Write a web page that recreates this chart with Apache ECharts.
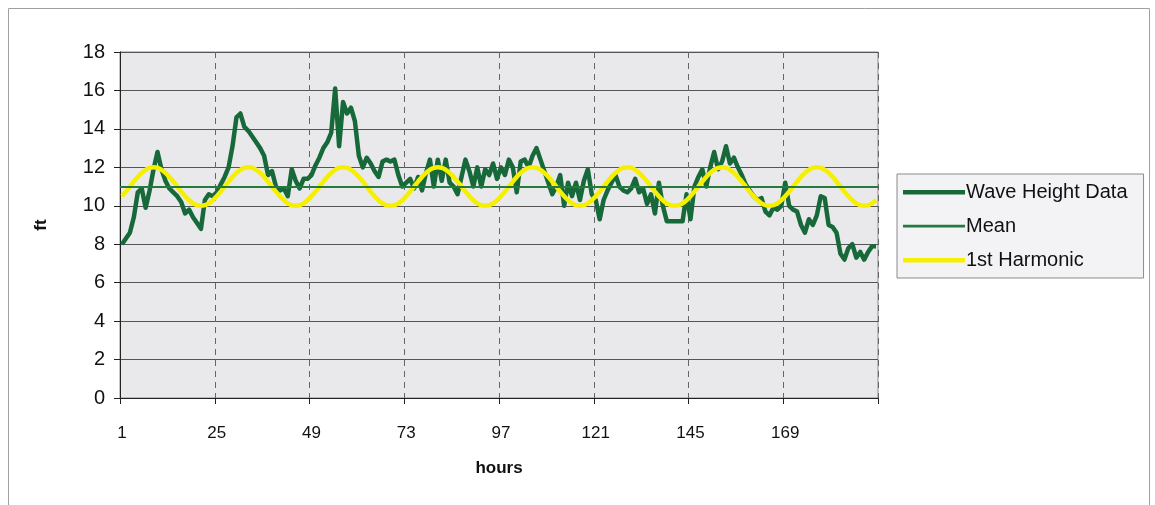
<!DOCTYPE html>
<html>
<head>
<meta charset="utf-8">
<style>
html,body{margin:0;padding:0;background:#fff;}
#chart{width:1155px;height:505px;}
</style>
<script src="https://cdn.jsdelivr.net/npm/echarts@6/dist/echarts.min.js"></script>
</head>
<body>
<div id="chart"></div>
<script>
// hours 1..192
var hours = [];
for (var i = 1; i <= 192; i++) hours.push(String(i));

var waveHeight = [
  8.0, 8.3, 8.6, 9.4, 10.7, 10.9, 9.9, 10.8,
  11.9, 12.8, 11.9, 11.3, 10.9, 10.7, 10.5, 10.2,
  9.6, 9.8, 9.4, 9.1, 8.8, 10.3, 10.6, 10.5,
  10.7, 11.1, 11.5, 12.0, 13.1, 14.6, 14.8, 14.1,
  13.9, 13.6, 13.3, 13.0, 12.6, 11.6, 11.8, 11.0,
  10.8, 10.9, 10.5, 11.9, 11.3, 10.9, 11.4, 11.4,
  11.6, 12.1, 12.5, 13.0, 13.3, 13.8, 16.1, 13.1,
  15.4, 14.8, 15.1, 14.4, 12.6, 12.0, 12.5, 12.2,
  11.8, 11.5, 12.3, 12.4, 12.3, 12.4, 11.6, 11.0,
  11.2, 11.4, 10.9, 11.5, 10.8, 11.7, 12.4, 11.0,
  12.4, 11.3, 12.4, 11.2, 11.0, 10.6, 11.5, 12.4,
  11.8, 11.0, 12.0, 11.0, 11.9, 11.6, 12.2, 11.4,
  12.0, 11.6, 12.4, 12.0, 10.7, 12.3, 12.4, 12.0,
  12.6, 13.0, 12.4, 11.8, 11.2, 10.6, 11.0, 11.6,
  10.0, 11.2, 10.5, 11.2, 10.3, 11.3, 11.9, 10.6,
  10.3, 9.3, 10.3, 10.8, 11.2, 11.6, 11.0, 10.8,
  10.7, 10.9, 11.4, 10.7, 10.9, 10.1, 10.6, 9.6,
  11.2, 10.0, 9.2, 9.2, 9.2, 9.2, 9.2, 10.6,
  9.3, 11.0, 11.5, 11.9, 11.0, 12.0, 12.8, 11.9,
  12.3, 13.1, 12.2, 12.5, 12.0, 11.6, 11.1, 10.8,
  10.5, 10.3, 10.4, 9.7, 9.5, 9.9, 9.8, 10.0,
  11.2, 10.0, 9.8, 9.7, 9.0, 8.6, 9.3, 9.0,
  9.5, 10.5, 10.4, 9.0, 8.9, 8.6, 7.5, 7.2,
  7.8, 8.0, 7.3, 7.6, 7.2, 7.6, 7.9, 7.9
];

var meanValue = 11.0;

var firstHarmonic = [
  10.50,10.74,11.00,11.26,11.50,11.71,11.87,11.97,12.00,11.97,11.87,11.71,11.50,11.26,11.00,10.74,10.50,10.29,10.13,10.03,10.00,10.03,10.13,10.29,
  10.50,10.74,11.00,11.26,11.50,11.71,11.87,11.97,12.00,11.97,11.87,11.71,11.50,11.26,11.00,10.74,10.50,10.29,10.13,10.03,10.00,10.03,10.13,10.29,
  10.50,10.74,11.00,11.26,11.50,11.71,11.87,11.97,12.00,11.97,11.87,11.71,11.50,11.26,11.00,10.74,10.50,10.29,10.13,10.03,10.00,10.03,10.13,10.29,
  10.50,10.74,11.00,11.26,11.50,11.71,11.87,11.97,12.00,11.97,11.87,11.71,11.50,11.26,11.00,10.74,10.50,10.29,10.13,10.03,10.00,10.03,10.13,10.29,
  10.50,10.74,11.00,11.26,11.50,11.71,11.87,11.97,12.00,11.97,11.87,11.71,11.50,11.26,11.00,10.74,10.50,10.29,10.13,10.03,10.00,10.03,10.13,10.29,
  10.50,10.74,11.00,11.26,11.50,11.71,11.87,11.97,12.00,11.97,11.87,11.71,11.50,11.26,11.00,10.74,10.50,10.29,10.13,10.03,10.00,10.03,10.13,10.29,
  10.50,10.74,11.00,11.26,11.50,11.71,11.87,11.97,12.00,11.97,11.87,11.71,11.50,11.26,11.00,10.74,10.50,10.29,10.13,10.03,10.00,10.03,10.13,10.29,
  10.50,10.74,11.00,11.26,11.50,11.71,11.87,11.97,12.00,11.97,11.87,11.71,11.50,11.26,11.00,10.74,10.50,10.29,10.13,10.03,10.00,10.03,10.13,10.29
];

var seriesNames = ['Wave Height Data', 'Mean', '1st Harmonic'];

var WAVE_COLOR = '#17693a', MEAN_COLOR = '#237a3c', HARM_COLOR = '#f6f000';
// legend icons: thin horizontal bars inside a 62x14 box (M points fix the bounding box)
var ICON_THICK = 'path://M0,0 M0,5L62,5L62,9.5L0,9.5Z M62,14';
var ICON_THIN = 'path://M0,0 M0,5.8L62,5.8L62,8.6L0,8.6Z M62,14';

var FONT = 'Liberation Sans, Arial, sans-serif';
var chart = echarts.init(document.getElementById('chart'), null, {renderer: 'canvas'});
chart.setOption({
  animation: false,
  backgroundColor: '#ffffff',
  graphic: [{
    type: 'rect', z: -10,
    shape: {x: 8.5, y: 8.5, width: 1141, height: 520},
    style: {fill: 'none', stroke: '#a0a0a0', lineWidth: 1}
  }],
  grid: {
    left: 120, right: 277, top: 52, bottom: 107,
    show: true, backgroundColor: '#e9e9ec', borderColor: '#8a8a8a', borderWidth: 1
  },
  legend: {
    orient: 'vertical',
    left: 897, top: 174,
    itemWidth: 62, itemHeight: 14, itemGap: 14,
    padding: [8, 16, 8, 6],
    borderColor: '#8a8a8a', borderWidth: 1,
    backgroundColor: '#f3f3f5',
    textStyle: {fontFamily: FONT, fontSize: 20, color: '#111', padding: [0, 0, 0, -4]},
    data: [
      {name: seriesNames[0], icon: ICON_THICK, itemStyle: {color: WAVE_COLOR}},
      {name: seriesNames[1], icon: ICON_THIN, itemStyle: {color: MEAN_COLOR}},
      {name: seriesNames[2], icon: ICON_THICK, itemStyle: {color: HARM_COLOR}}
    ]
  },
  xAxis: {
    type: 'category',
    data: hours,
    boundaryGap: true,
    name: 'hours',
    nameLocation: 'middle',
    nameGap: 62,
    nameTextStyle: {fontFamily: FONT, fontSize: 17, fontWeight: 'bold', color: '#111'},
    axisLine: {lineStyle: {color: '#222', width: 1}},
    axisTick: {show: true, interval: 23, length: 6, lineStyle: {color: '#222'}},
    axisLabel: {interval: 23, fontFamily: FONT, fontSize: 17, color: '#111', margin: 27},
    splitLine: {show: true, interval: 23, lineStyle: {color: '#666', type: [6, 5], width: 1}}
  },
  yAxis: {
    type: 'value',
    min: 0, max: 18, interval: 2,
    name: 'ft',
    nameLocation: 'middle',
    nameGap: 70,
    nameRotate: 90,
    nameTextStyle: {fontFamily: FONT, fontSize: 17, fontWeight: 'bold', color: '#111'},
    axisLine: {show: true, lineStyle: {color: '#222', width: 1}},
    axisTick: {show: true, length: 6, inside: false, lineStyle: {color: '#222'}},
    axisLabel: {fontFamily: FONT, fontSize: 20, color: '#111', margin: 15},
    splitLine: {show: true, lineStyle: {color: '#555', width: 1}}
  },
  series: [
    {
      name: seriesNames[0], type: 'line', data: waveHeight,
      symbol: 'none', z: 3,
      itemStyle: {color: WAVE_COLOR},
      lineStyle: {color: WAVE_COLOR, width: 4.5, join: 'round'}
    },
    {
      name: seriesNames[1], type: 'line', data: [],
      symbol: 'none', z: 2,
      itemStyle: {color: MEAN_COLOR},
      lineStyle: {color: MEAN_COLOR, width: 2},
      markLine: {
        silent: true, symbol: 'none', label: {show: false},
        lineStyle: {color: MEAN_COLOR, width: 2, type: 'solid'},
        data: [{yAxis: meanValue}]
      }
    },
    {
      name: seriesNames[2], type: 'line', data: firstHarmonic,
      symbol: 'none', smooth: true, z: 4,
      itemStyle: {color: HARM_COLOR},
      lineStyle: {color: HARM_COLOR, width: 4.5}
    }
  ]
});
</script>
</body>
</html>
